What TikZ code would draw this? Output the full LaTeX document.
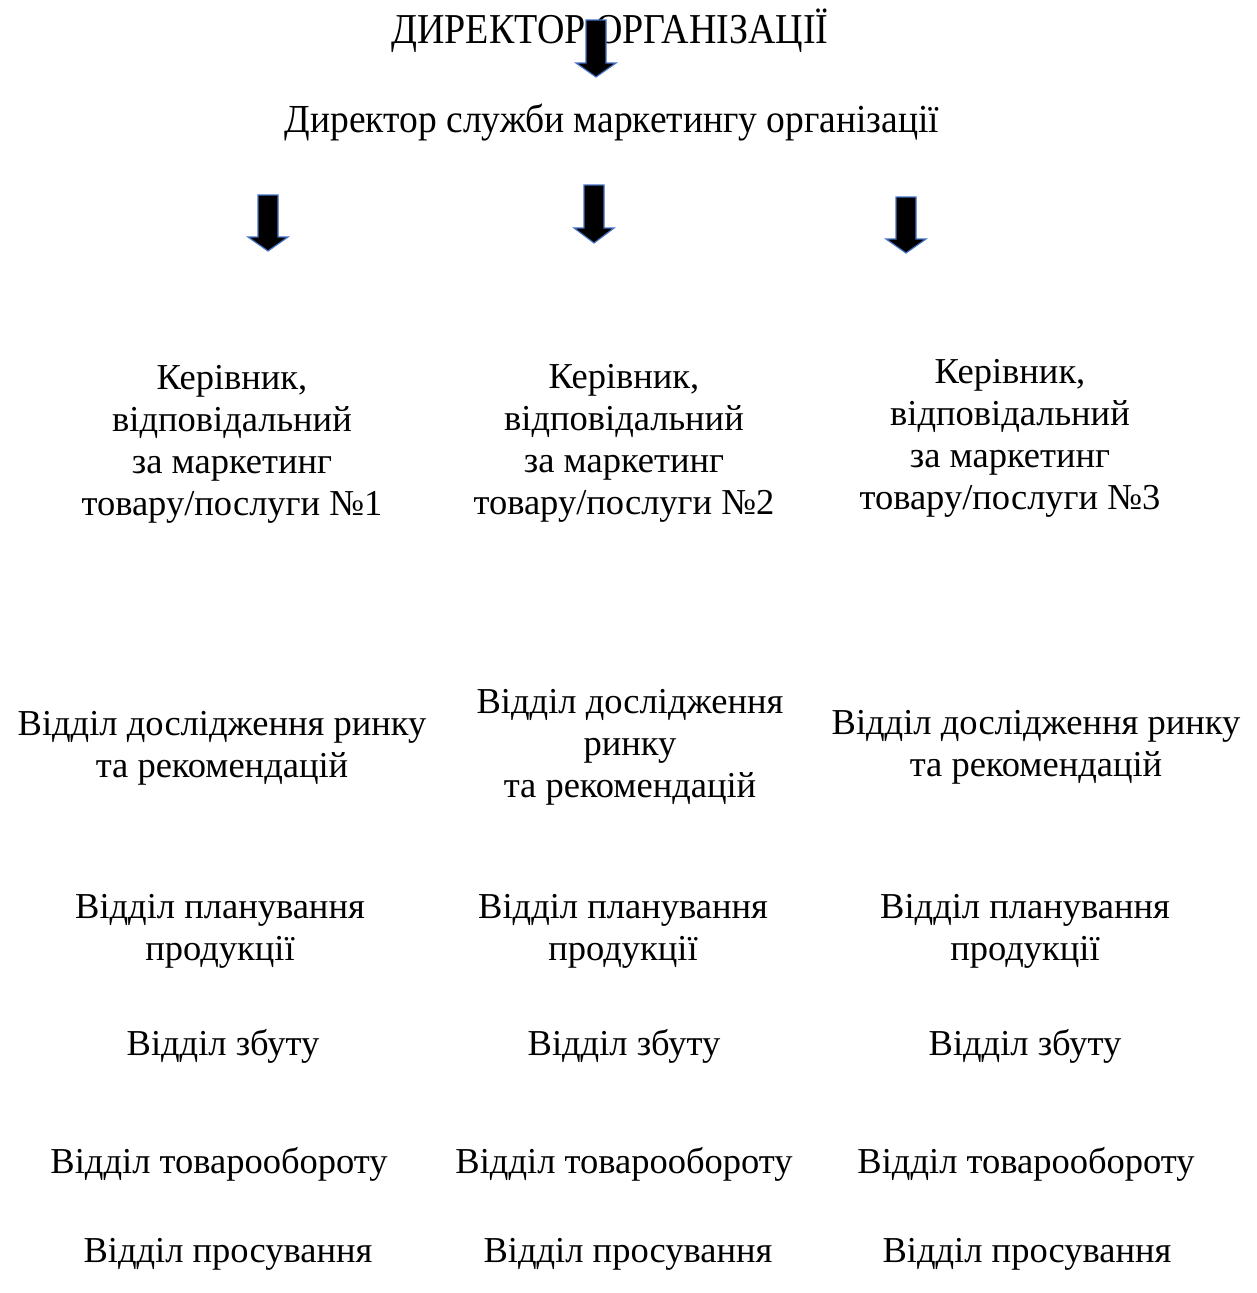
\documentclass[tikz,border=0pt]{standalone}
\usepackage{fontspec}
\setmainfont{Liberation Serif}
\usepackage{tikz}
\definecolor{arrowblue}{RGB}{68,114,196}

\tikzset{
  unit/.style={align=center, inner sep=0pt, anchor=base,
    font=\fontsize{36.5}{42}\selectfont},
  blockarr/.style={fill=black, draw=arrowblue, line width=1.2pt, line join=miter},
}

\begin{document}
\begin{tikzpicture}[x=1pt, y=-1pt]
  \useasboundingbox (0,0) rectangle (1256,1293);

  \node[unit, font=\fontsize{38}{42}\selectfont] (dir) at (610,43)
    {\scalebox{1}[1.12]{ДИРЕКТОР ОРГАНІЗАЦІЇ}};
  \node[unit, font=\fontsize{37.5}{42}\selectfont] (mkt) at (612,132)
    {\scalebox{1}[1.06]{Директор служби маркетингу організації}};

  % block arrows: centre x / top / head base / tip
  \foreach \x/\t/\b/\e in {596/20/63/77, 268/195/237/251, 594/185/228/243, 906/197/239/253} {
    \draw[blockarr] (\x-10,\t) -- (\x+10,\t) -- (\x+10,\b) -- (\x+20,\b)
      -- (\x,\e) -- (\x-20,\b) -- (\x-10,\b) -- cycle;
  }

  % base of a multi-line node = baseline of its last line
  \node[unit] (head1) at (232,515) {Керівник,\\відповідальний\\за маркетинг\\товару/послуги №1};
  \node[unit] (head2) at (624,514) {Керівник,\\відповідальний\\за маркетинг\\товару/послуги №2};
  \node[unit] (head3) at (1010,509) {Керівник,\\відповідальний\\за маркетинг\\товару/послуги №3};

  \node[unit] (research1) at (222,777) {Відділ дослідження ринку\\та рекомендацій};
  \node[unit] (research2) at (630,797) {Відділ дослідження\\ринку\\та рекомендацій};
  \node[unit] (research3) at (1036,776) {Відділ дослідження ринку\\та рекомендацій};

  \foreach \i/\x in {1/220, 2/623, 3/1025}
    \node[unit] (plan\i) at (\x,960) {Відділ планування\\продукції};
  \foreach \i/\x in {1/223, 2/624, 3/1025}
    \node[unit] (sales\i) at (\x,1055) {Відділ збуту};
  \foreach \i/\x in {1/219, 2/624, 3/1026}
    \node[unit] (turn\i) at (\x,1173) {Відділ товарообороту};
  \foreach \i/\x in {1/228, 2/628, 3/1027}
    \node[unit] (promo\i) at (\x,1262) {Відділ просування};

\end{tikzpicture}
\end{document}
